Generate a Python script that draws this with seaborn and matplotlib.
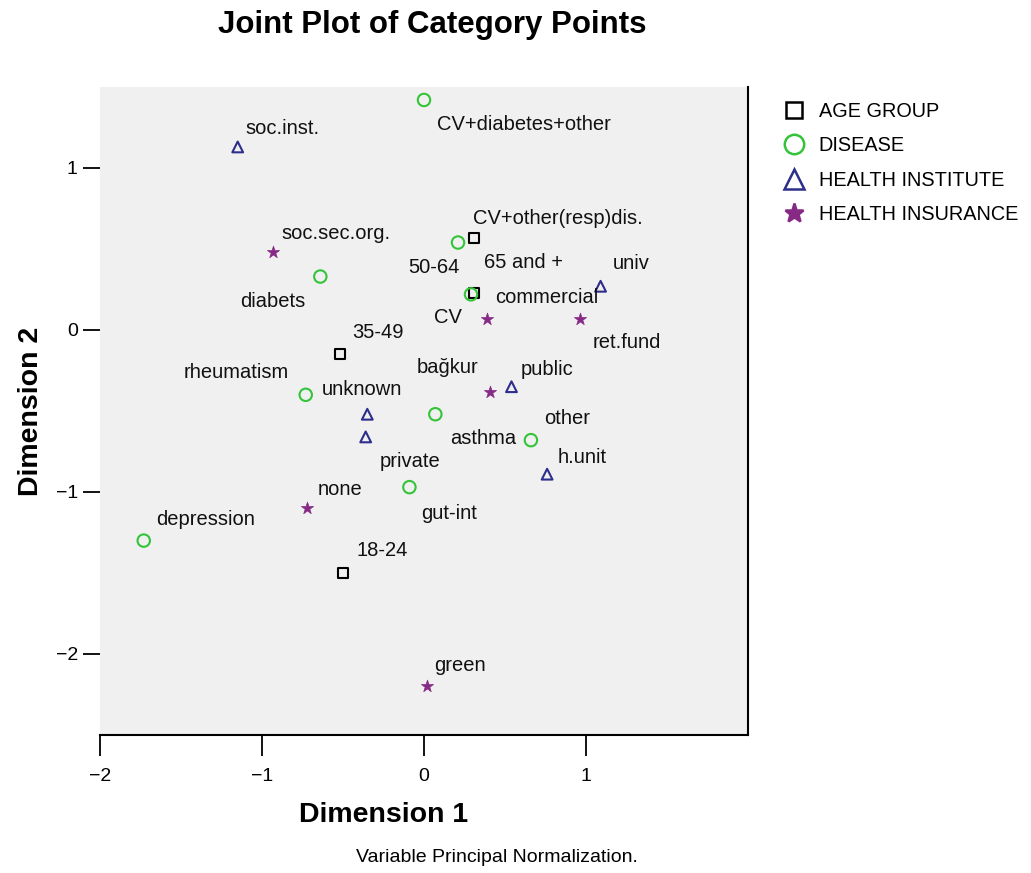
import pandas as pd
import matplotlib
matplotlib.use('Agg')
import matplotlib.pyplot as plt
import seaborn as sns
from matplotlib.lines import Line2D

# category points (dimension 1, dimension 2)
age_labels = ['18-24', '35-49', '50-64', '65 and +']
age_dim1 = [-0.50, -0.52, 0.31, 0.31]
age_dim2 = [-1.50, -0.15, 0.23, 0.57]

disease_labels = ['CV+diabetes+other', 'CV+other(resp)dis.', 'diabets', 'CV',
                  'rheumatism', 'asthma', 'other', 'gut-int', 'depression']
disease_dim1 = [0.00, 0.21, -0.64, 0.29, -0.73, 0.07, 0.66, -0.09, -1.73]
disease_dim2 = [1.42, 0.54, 0.33, 0.22, -0.40, -0.52, -0.68, -0.97, -1.30]

institute_labels = ['soc.inst.', 'univ', 'public', 'unknown', 'private', 'h.unit']
institute_dim1 = [-1.15, 1.09, 0.54, -0.35, -0.36, 0.76]
institute_dim2 = [1.13, 0.27, -0.35, -0.52, -0.66, -0.89]

insurance_labels = ['soc.sec.org.', 'commercial', 'ret.fund', 'bağkur', 'none', 'green']
insurance_dim1 = [-0.93, 0.39, 0.96, 0.41, -0.72, 0.02]
insurance_dim2 = [0.48, 0.07, 0.07, -0.38, -1.10, -2.20]

variables = ['AGE GROUP', 'DISEASE', 'HEALTH INSTITUTE', 'HEALTH INSURANCE']
x_ticks = [-2, -1, 0, 1]
y_ticks = [1, 0, -1, -2]

# label placement next to each point (pixels)
age_offsets = [(14, 22), (12, 22), (-66, 25), (10, -25)]
disease_offsets = [(13, -25), (15, 24), (-80, -25), (-37, -23), (-122, 22),
                   (15, -24), (13, 22), (12, -26), (12, 21)]
institute_offsets = [(8, 18), (12, 23), (9, 17), (-46, 25), (14, -25), (11, 17)]
insurance_offsets = [(8, 19), (8, 21), (13, -24), (-74, 24), (10, 19), (7, 21)]

# build one table
frames = []
for var, labs, d1, d2 in zip(variables,
                             [age_labels, disease_labels, institute_labels, insurance_labels],
                             [age_dim1, disease_dim1, institute_dim1, insurance_dim1],
                             [age_dim2, disease_dim2, institute_dim2, insurance_dim2]):
    frames.append(pd.DataFrame({'variable': var, 'label': labs, 'dim1': d1, 'dim2': d2}))
points = pd.concat(frames, ignore_index=True)
offsets = age_offsets + disease_offsets + institute_offsets + insurance_offsets

colors = {'AGE GROUP': 'black', 'DISEASE': '#33c43a',
          'HEALTH INSTITUTE': '#2e2e8c', 'HEALTH INSURANCE': '#862a86'}
markers = {'AGE GROUP': 's', 'DISEASE': 'o', 'HEALTH INSTITUTE': '^', 'HEALTH INSURANCE': '*'}
sizes = {'AGE GROUP': 50, 'DISEASE': 80, 'HEALTH INSTITUTE': 60, 'HEALTH INSURANCE': 85}
hollow = {'AGE GROUP': True, 'DISEASE': True, 'HEALTH INSTITUTE': True, 'HEALTH INSURANCE': False}

sns.set_style("white")
plt.rcParams['font.family'] = ['Liberation Sans', 'DejaVu Sans']
plt.rcParams['text.color'] = 'black'
plt.rcParams['axes.labelcolor'] = 'black'
plt.rcParams['xtick.color'] = 'black'
plt.rcParams['ytick.color'] = 'black'

fig = plt.figure(figsize=(10.31, 8.73), dpi=100)
ax = fig.add_axes([100 / 1031, 1 - 735 / 873, 648 / 1031, 648 / 873])
ax.set_facecolor('#f0f0f0')

for var in variables:
    sub = points[points['variable'] == var]
    sns.scatterplot(data=sub, x='dim1', y='dim2', marker=markers[var], s=sizes[var],
                    color=colors[var], ax=ax, legend=False)
    pts = ax.collections[-1]
    if hollow[var]:
        pts.set_facecolor('none')
        pts.set_edgecolor(colors[var])
        pts.set_linewidth(1.5)
    else:
        pts.set_edgecolor(colors[var])
        pts.set_linewidth(0.5)

for (lab, x, y), (dx, dy) in zip(points[['label', 'dim1', 'dim2']].values, offsets):
    ax.annotate(lab, (x, y), xytext=(dx, dy), textcoords='offset pixels',
                ha='left', va='center', fontsize=14.5, color='#111111')

ax.set_xlim(-2, 2)
ax.set_ylim(-2.5, 1.5)
ax.set_xticks(x_ticks)
ax.set_yticks(y_ticks)
ax.tick_params(axis='x', direction='out', length=15, width=1.3, labelsize=14, pad=9, bottom=True)
ax.tick_params(axis='y', direction='out', length=12, width=1.3, labelsize=14, pad=4, left=True)
for side in ['left', 'top']:
    ax.spines[side].set_visible(False)
for side in ['right', 'bottom']:
    ax.spines[side].set_color('black')
    ax.spines[side].set_linewidth(1.5)

ax.set_xlabel('Dimension 1', fontsize=20.5, fontweight='bold')
ax.set_ylabel('Dimension 2', fontsize=20.5, fontweight='bold')
ax.xaxis.set_label_coords((384 - 100) / 648, -(802 - 735) / 648)
ax.yaxis.set_label_coords(-(100 - 44) / 648, 0.5)
fig.text(432 / 1031, 1 - 25 / 873, 'Joint Plot of Category Points', ha='center', va='center',
         fontsize=22.5, fontweight='bold')
fig.text(497 / 1031, 1 - 858 / 873, 'Variable Principal Normalization.', ha='center', va='center',
         fontsize=14)

handles = [Line2D([], [], linestyle='none', marker=markers[v], markersize=(12 if v == 'AGE GROUP' else 14),
                  markerfacecolor=('none' if hollow[v] else colors[v]), markeredgecolor=colors[v],
                  markeredgewidth=1.8) for v in variables]
fig.legend(handles, variables, loc='upper left', bbox_to_anchor=(766 / 1031, 1 - 94 / 873),
           frameon=False, fontsize=14.3, labelspacing=0.78, handletextpad=0.25, borderaxespad=0)

fig.savefig('out.png', dpi=100)
